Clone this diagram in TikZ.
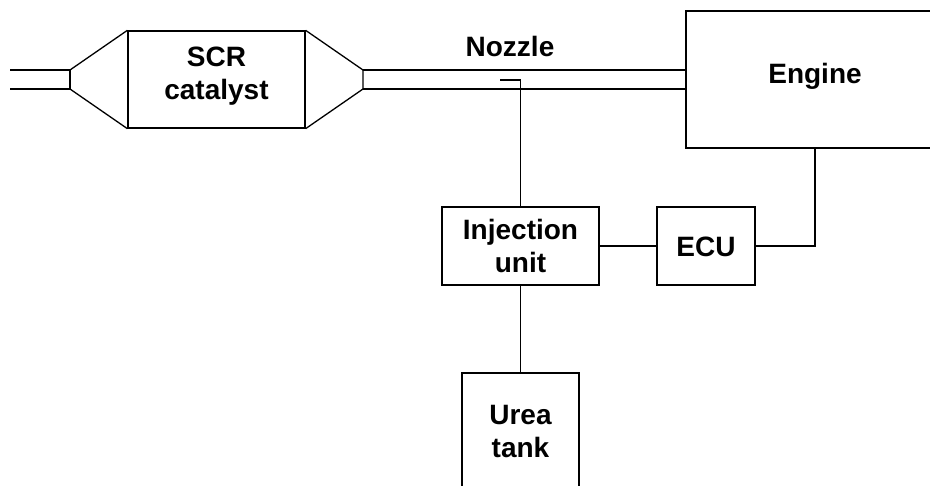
\documentclass[tikz,border=0pt]{standalone}
\usepackage{fontspec}
\setmainfont{Liberation Sans}
\begin{document}
\begin{tikzpicture}[x=1pt,y=-1pt,line width=1.3pt,
  box/.style={draw,rectangle,inner sep=0pt,align=center},
  lbl/.style={inner sep=0pt,align=center,font=\fontsize{28}{33}\selectfont\bfseries}]
\useasboundingbox (0,0) rectangle (930,486);
\clip (0,0) rectangle (930,486);
\fill[white] (0,0) rectangle (930,486);

% boxes
\node[box,minimum width=177pt,minimum height=97pt] (scr) at (216.5,79.5) {};
\node[lbl] (scrt) at (216.5,76) {SCR\\catalyst};
\node[box,minimum width=258pt,minimum height=137pt] (engine) at (815,79.5) {};
\node[lbl] (enginet) at (815,76) {Engine};
\node[box,minimum width=157pt,minimum height=78pt] (inj) at (520.5,246) {};
\node[lbl] (injt) at (520.5,246) {Injection\\unit};
\node[box,minimum width=98pt,minimum height=78pt] (ecu) at (706,246) {};
\node[lbl] (ecut) at (706,247) {ECU};
\node[box,minimum width=117pt,minimum height=120pt] (urea) at (520.5,433) {};
\node[lbl] (ureat) at (520.5,432) {Urea\\tank};
\node[lbl] (nozzle) at (510,46) {Nozzle};

% exhaust pipe, inlet side
\coordinate (pinT) at (70,70);
\coordinate (pinB) at (70,89);
\draw (10,70) -- (pinT) -- (pinB) -- (10,89);
\draw (pinT) -- (scr.north west);
\draw (pinB) -- (scr.south west);

% exhaust pipe, engine side
\coordinate (poutT) at (363,70);
\coordinate (poutB) at (363,89);
\draw (scr.north east) -- (poutT) -- (poutB) -- (scr.south east);
\draw (poutT) -- (poutT -| engine.west);
\draw (poutB) -- (poutB -| engine.west);
\draw[line width=2.2pt] (560,89) -- (580,89);

% nozzle feed and signal lines
\coordinate (tip) at (500,80);
\draw (tip) -- (tip -| inj.north) -- (inj.north);
\draw (inj.east) -- (ecu.west);
\draw (ecu.east) -| (engine.south);
\draw (inj.south) -- (urea.north);
\end{tikzpicture}
\end{document}
